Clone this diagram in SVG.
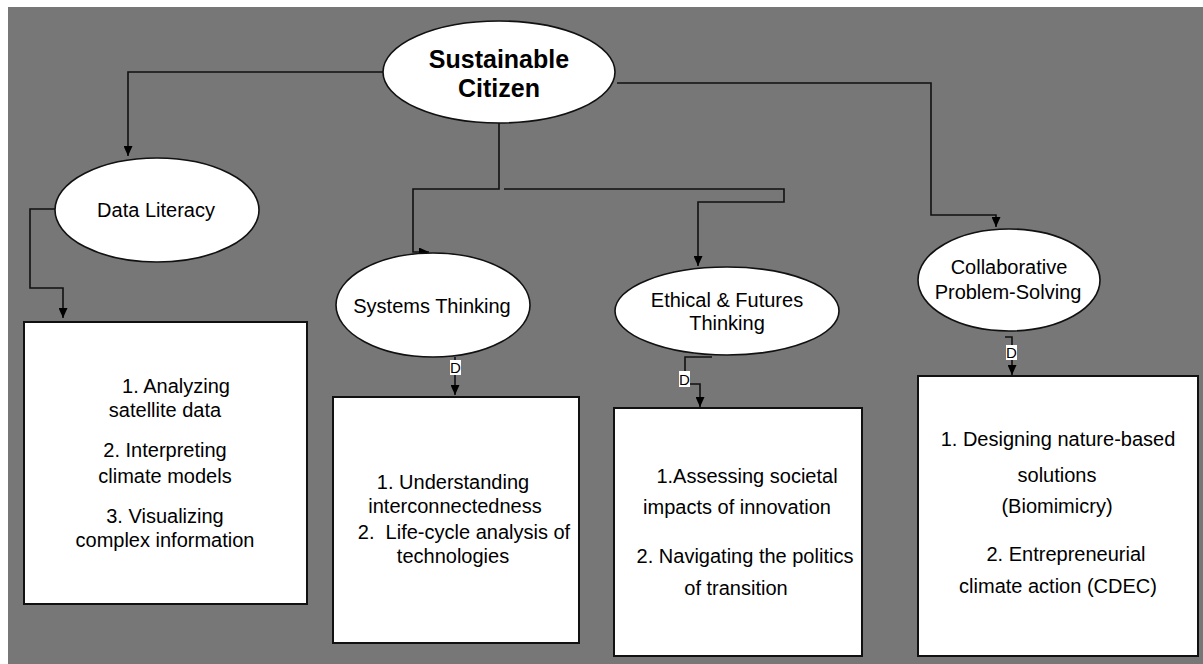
<svg xmlns="http://www.w3.org/2000/svg" width="1203" height="664" viewBox="0 0 1203 664">
<defs>
<marker id="arr" markerUnits="userSpaceOnUse" markerWidth="11" markerHeight="9" refX="10" refY="4.5" orient="auto">
<path d="M0,0 L10,4.5 L0,9 z" fill="#000"/>
</marker>
<style>
.bg{fill:#777}
.conn{fill:none;stroke:#111;stroke-width:1.6}
.ell{fill:#fff;stroke:#111;stroke-width:1.6}
.box{fill:#fff;stroke:#111;stroke-width:2}
.t{font-family:"Liberation Sans",Arial,sans-serif;font-size:20px;fill:#000;text-anchor:middle}
.tb{font-family:"Liberation Sans",Arial,sans-serif;font-size:25px;font-weight:bold;fill:#000;text-anchor:middle}
.lbl{fill:#fff}
.lt{font-family:"Liberation Sans",Arial,sans-serif;font-size:15px;fill:#000;text-anchor:middle}
</style>
</defs>
<rect x="0" y="0" width="1203" height="664" fill="#fff"/>
<rect class="bg" x="8" y="7" width="1195" height="657"/>

<g id="connectors">
<path class="conn" d="M383,72 H128 V156" marker-end="url(#arr)"/>
<path class="conn" d="M55,209 H30 V288 H63 V318" marker-end="url(#arr)"/>
<path class="conn" d="M499,123 V189 H413 V252 H429" marker-end="url(#arr)"/>
<path class="conn" d="M504,189 H784 V202 H698 V266" marker-end="url(#arr)"/>
<path class="conn" d="M617,83 H931 V215 H996 V227" marker-end="url(#arr)"/>
<path class="conn" d="M455,357 V395" marker-end="url(#arr)"/>
<path class="conn" d="M712,357 H685 V384 H700 V407" marker-end="url(#arr)"/>
<path class="conn" d="M1005,337 H1012 V375" marker-end="url(#arr)"/>
<rect class="lbl" x="450" y="360" width="11" height="15"/>
<text class="lt" x="455.5" y="373">D</text>
<rect class="lbl" x="679" y="371" width="11" height="16"/>
<text class="lt" x="684.5" y="385">D</text>
<rect class="lbl" x="1006" y="345" width="11" height="15"/>
<text class="lt" x="1011.5" y="358">D</text>
</g>

<g id="sustainable-citizen">
<ellipse class="ell" cx="499" cy="72" rx="116" ry="51"/>
<text class="tb" x="499" y="68">Sustainable</text>
<text class="tb" x="499" y="97">Citizen</text>
</g>

<g id="data-literacy">
<ellipse class="ell" cx="157" cy="210" rx="102" ry="52"/>
<text class="t" x="156" y="217">Data Literacy</text>
</g>

<g id="data-literacy-box">
<rect class="box" x="24" y="322" width="283" height="282"/>
<text class="t" x="176" y="393">1. Analyzing</text>
<text class="t" x="165" y="417">satellite data</text>
<text class="t" x="165" y="457">2. Interpreting</text>
<text class="t" x="165" y="483">climate models</text>
<text class="t" x="165" y="523">3. Visualizing</text>
<text class="t" x="165" y="547">complex information</text>
</g>

<g id="systems-thinking">
<ellipse class="ell" cx="433" cy="305" rx="97" ry="52"/>
<text class="t" x="432" y="313">Systems Thinking</text>
</g>

<g id="systems-thinking-box">
<rect class="box" x="333" y="397" width="246" height="246"/>
<text class="t" x="453" y="489">1. Understanding</text>
<text class="t" x="455" y="513">interconnectedness</text>
<text class="t" x="464" y="539" xml:space="preserve">2.  Life-cycle analysis of</text>
<text class="t" x="453" y="563">technologies</text>
</g>

<g id="ethical-futures">
<ellipse class="ell" cx="727" cy="311" rx="112" ry="44"/>
<text class="t" x="727" y="307">Ethical &amp; Futures</text>
<text class="t" x="727" y="330">Thinking</text>
</g>

<g id="ethical-futures-box">
<rect class="box" x="614" y="408" width="248" height="248"/>
<text class="t" x="747" y="483">1.Assessing societal</text>
<text class="t" x="737" y="514">impacts of innovation</text>
<text class="t" x="745" y="563">2. Navigating the politics</text>
<text class="t" x="736" y="595">of transition</text>
</g>

<g id="collaborative">
<ellipse class="ell" cx="1009" cy="280" rx="91" ry="51"/>
<text class="t" x="1009" y="274">Collaborative</text>
<text class="t" x="1008" y="299">Problem-Solving</text>
</g>

<g id="collaborative-box">
<rect class="box" x="918" y="376" width="280" height="280"/>
<text class="t" x="1058" y="446">1. Designing nature-based</text>
<text class="t" x="1057" y="482">solutions</text>
<text class="t" x="1057" y="513">(Biomimicry)</text>
<text class="t" x="1066" y="561">2. Entrepreneurial</text>
<text class="t" x="1058" y="593">climate action (CDEC)</text>
</g>
</svg>
